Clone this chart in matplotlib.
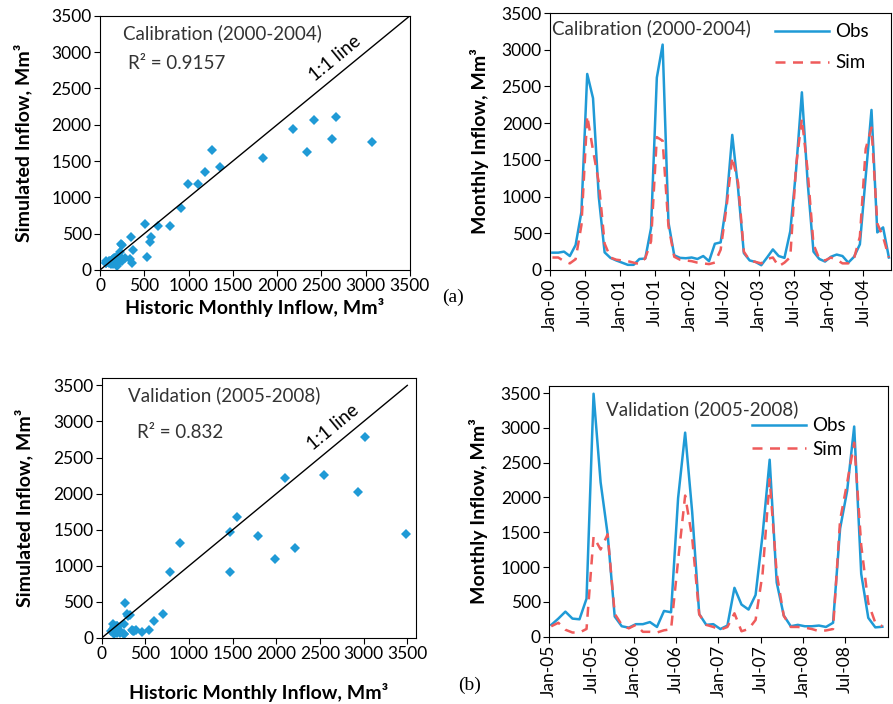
import matplotlib.pyplot as plt

plt.rcParams['font.family'] = ['Lato', 'DejaVu Sans']

# Calibration period, monthly inflow (Mm3), Jan-00 .. Nov-04
cal_obs = [236, 236, 250, 190, 340, 790, 2670, 2340, 990, 240, 165, 130,
           100, 70, 70, 150, 155, 570, 2620, 3070, 650, 200, 165, 160,
           170, 150, 190, 120, 357, 376, 910, 1840, 1110, 230, 130, 110,
           65, 170, 280, 190, 165, 527, 1360, 2420, 1190, 250, 150, 115,
           180, 210, 190, 100, 180, 350, 1270, 2180, 512, 580, 170]
cal_sim = [170, 170, 120, 90, 147, 610, 2100, 1630, 1190, 360, 170, 140,
           130, 120, 100, 80, 160, 390, 1810, 1760, 600, 180, 140, 130,
           120, 100, 90, 80, 101, 276, 850, 1540, 1190, 250, 130, 110,
           90, 150, 170, 50, 100, 175, 1420, 2060, 1350, 350, 150, 130,
           170, 140, 90, 90, 160, 455, 1650, 1940, 634, 450, 170]

# Validation period, monthly inflow (Mm3), Jan-05 .. Dec-08
val_obs = [170, 260, 360, 260, 250, 546, 3490, 2218, 1469, 290, 150, 130,
           180, 180, 210, 140, 370, 351, 1989, 2931, 1790, 324, 170, 180,
           110, 160, 702, 462, 390, 599, 1469, 2542, 779, 305, 150, 170,
           150, 150, 160, 140, 200, 1553, 2095, 3019, 901, 271, 134, 143]
val_sim = [150, 200, 100, 60, 60, 111, 1437, 1253, 1470, 330, 170, 120,
           170, 70, 70, 60, 92, 106, 1096, 2027, 1419, 322, 170, 140,
           100, 140, 336, 78, 110, 240, 912, 2262, 912, 300, 140, 140,
           130, 110, 80, 90, 110, 1677, 2211, 2787, 1313, 484, 200, 150]

cal_ticks = ['Jan-00', 'Jul-00', 'Jan-01', 'Jul-01', 'Jan-02', 'Jul-02',
             'Jan-03', 'Jul-03', 'Jan-04', 'Jul-04']
val_ticks = ['Jan-05', 'Jul-05', 'Jan-06', 'Jul-06', 'Jan-07', 'Jul-07',
             'Jan-08', 'Jul-08']

blue = '#1f9ad6'
red = '#ef5b5b'
txt = 13.5
tick = 12.5
lab = 14

fig = plt.figure(figsize=(8.93, 7.04), dpi=100)

ax1 = fig.add_axes([0.112, 0.6165, 0.347, 0.361])
ax2 = fig.add_axes([0.616, 0.6165, 0.382, 0.365])
ax3 = fig.add_axes([0.1139, 0.0938, 0.352, 0.369])
ax4 = fig.add_axes([0.615, 0.0956, 0.379, 0.356])


def scatter_panel(ax, obs, sim, lim, title, r2, r2pos, tpos, xpad):
    ax.plot(obs, sim, 'D', color=blue, markersize=4.6, markeredgewidth=0)
    ax.plot([0, 3500], [0, 3500], color='black', lw=1)
    ax.set_xlim(0, lim)
    ax.set_ylim(0, lim)
    ax.set_xticks(range(0, 3501, 500))
    ax.set_yticks(range(0, 3501, 500))
    ax.tick_params(labelsize=tick, length=4, direction='out', pad=2)
    ax.text(tpos[0], tpos[1], title, transform=ax.transAxes, fontsize=txt,
            va='center', color='#333333')
    ax.text(r2pos[0], r2pos[1], r2, transform=ax.transAxes, fontsize=txt,
            va='center', color='#333333')
    ax.text(2650, 2920, '1:1 line', rotation=39.5, fontsize=txt,
            ha='center', va='center', rotation_mode='anchor')
    ax.set_ylabel('Simulated Inflow, Mm³', fontsize=lab, fontweight='bold',
                  labelpad=14)
    ax.set_xlabel('Historic Monthly Inflow, Mm³', fontsize=lab,
                  fontweight='bold', labelpad=xpad)


def series_panel(ax, obs, sim, ticks, offs, right, top, title, tpos,
                 lpos, lspace):
    x = list(range(len(obs)))
    ax.plot(x, obs, color=blue, lw=1.8, label='Obs')
    ax.plot(x, sim, color=red, lw=1.8, ls=(0, (4, 3)), label='Sim')
    ax.set_xlim(-offs, right)
    ax.set_ylim(0, top)
    ax.set_yticks(range(0, 3501, 500))
    ax.set_xticks([6 * i - offs for i in range(len(ticks))])
    ax.set_xticklabels(ticks, rotation=90)
    ax.tick_params(labelsize=tick, length=4, direction='out', pad=2)
    ax.text(tpos[0], tpos[1], title, transform=ax.transAxes, fontsize=txt,
            va='center', color='#333333')
    ax.legend(loc='upper left', bbox_to_anchor=lpos, frameon=False,
              fontsize=txt, handlelength=2.85, handletextpad=0.35,
              borderpad=0, borderaxespad=0, labelspacing=lspace)
    ax.set_ylabel('Monthly Inflow, Mm³', fontsize=lab, fontweight='bold',
                  labelpad=9)


scatter_panel(ax1, cal_obs, cal_sim, 3500, 'Calibration (2000-2004)',
              'R² = 0.9157', (0.091, 0.814), (0.075, 0.932), 3)
scatter_panel(ax3, val_obs, val_sim, 3600, 'Validation (2005-2008)',
              'R² = 0.832', (0.113, 0.79), (0.085, 0.936), 15)

series_panel(ax2, cal_obs, cal_sim, cal_ticks, 0.4, 58.4, 3500,
             'Calibration (2000-2004)', (0.007, 0.94), (0.66, 0.96), 0.75)
series_panel(ax4, val_obs, val_sim, val_ticks, 0.3, 47.75, 3600,
             'Validation (2005-2008)', (0.167, 0.908), (0.6, 0.875), 0.35)

fig.text(0.507, 0.578, '(a)', fontsize=14, family='Liberation Serif',
         ha='center', va='center')
fig.text(0.526, 0.027, '(b)', fontsize=14, family='Liberation Serif',
         ha='center', va='center')

fig.savefig('out.png', dpi=100)
